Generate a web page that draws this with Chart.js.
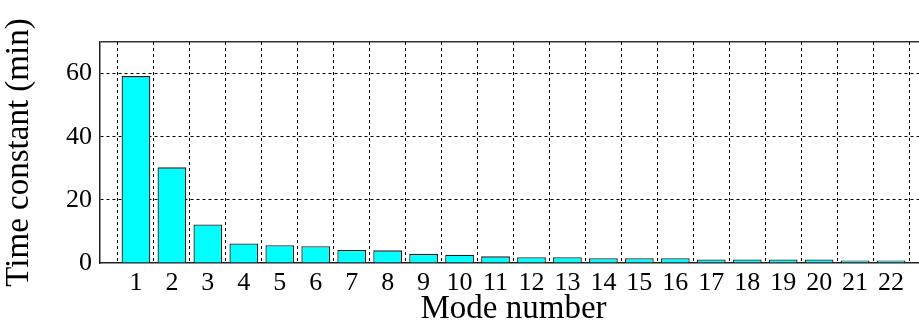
<!DOCTYPE html>
<html>
<head>
<meta charset="utf-8">
<script src="https://cdn.jsdelivr.net/npm/chart.js@4/dist/chart.umd.min.js"></script>
<style>
  html, body { margin: 0; padding: 0; background: #fff; overflow: hidden; }
  #wrap { position: relative; width: 935px; height: 329px; }
</style>
</head>
<body>
<div id="wrap"><canvas id="modeChart"></canvas></div>
<script>
// Datos
const modeNumbers = [1, 2, 3, 4, 5, 6, 7, 8, 9, 10, 11, 12, 13, 14, 15, 16, 17, 18, 19, 20, 21, 22];
const timeConstants = [59.2, 30.3, 12.2, 6.2, 5.6, 5.3, 4.1, 4.0, 2.9, 2.6, 2.1, 1.8, 1.8, 1.5, 1.5, 1.5, 1.1, 1.1, 1.1, 1.1, 0.8, 0.8];
const yTicks = [0, 20, 40, 60];

const serif = "'Liberation Serif', 'DejaVu Serif', serif";

const points = modeNumbers.map((m, i) => ({ x: m, y: timeConstants[i] }));

const ctx = document.getElementById('modeChart').getContext('2d');
const modeChart = new Chart(ctx, {
  type: 'bar',
  data: {
    datasets: [{
      label: 'Time constant',
      data: points,
      backgroundColor: '#00ffff',
      borderColor: '#222222',
      borderWidth: 1.3,
      barPercentage: 0.8,
      categoryPercentage: 1.0
    }]
  },
  options: {
    responsive: true,
    maintainAspectRatio: false,
    animation: false,
    layout: { padding: { top: 42, left: 0, right: 8, bottom: 0 } },
    plugins: { legend: { display: false }, tooltip: { enabled: false } },
    scales: {
      x: {
        type: 'linear',
        min: 0,
        max: 23,
        offset: false,
        afterFit: (scale) => { scale.height = 66; },
        ticks: {
          stepSize: 1,
          autoSkip: false,
          maxRotation: 0,
          padding: 5,
          color: '#000',
          font: { family: serif, size: 26 },
          callback: (v) => (modeNumbers.includes(v) ? String(v) : '')
        },
        grid: {
          drawTicks: false,
          color: (c) => (c.tick && c.tick.value > 0 ? '#000' : 'rgba(0,0,0,0)'),
          lineWidth: 1
        },
        border: { display: true, color: '#222', width: 1.5, dash: [3, 3] },
        title: {
          display: true,
          text: 'Mode number',
          color: '#000',
          font: { family: serif, size: 33 },
          padding: { top: 0, bottom: 0 }
        }
      },
      y: {
        min: 0,
        max: 70,
        afterFit: (scale) => { scale.width = 100; },
        afterBuildTicks: (scale) => {
          scale.ticks = yTicks.concat([70]).map((v) => ({ value: v }));
        },
        ticks: {
          padding: 8,
          color: '#000',
          font: { family: serif, size: 26 },
          callback: (v) => (yTicks.includes(v) ? String(v) : '')
        },
        grid: {
          drawTicks: false,
          color: (c) => (c.tick && c.tick.value === 70 ? '#333' : (c.tick && c.tick.value > 0 ? '#000' : 'rgba(0,0,0,0)')),
          lineWidth: (c) => (c.tick && c.tick.value === 70 ? 1.5 : 1)
        },
        border: {
          display: true,
          color: '#222',
          width: 1.5,
          dash: (c) => (c.tick && c.tick.value === 70 ? [] : [3, 3])
        },
        title: {
          display: true,
          text: 'Time constant (min)',
          color: '#000',
          font: { family: serif, size: 33 },
          padding: { top: 0, bottom: 0 }
        }
      }
    }
  }
});
</script>
</body>
</html>
